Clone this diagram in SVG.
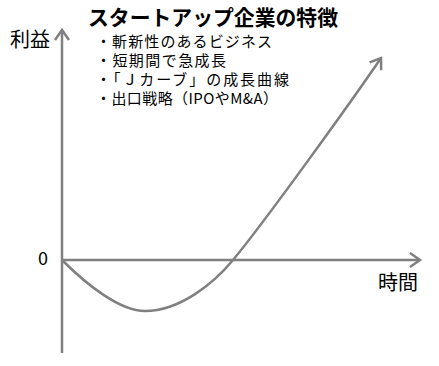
<svg xmlns="http://www.w3.org/2000/svg" width="439" height="366" viewBox="0 0 439 366">
<style>
.ax{stroke:#808080;stroke-width:2.5;fill:none}
.t{font-family:"Noto Sans CJK JP","Noto Sans",sans-serif;fill:#000}
.b{font-size:15px}
</style>
<defs>
<marker id="arr" markerUnits="userSpaceOnUse" markerWidth="20" markerHeight="20" refX="0" refY="0" viewBox="-12 -10 14 20" orient="auto">
<path d="M-10,-7 L0,0 L-10,7" fill="none" stroke="#808080" stroke-width="2.5"/>
</marker>
</defs>
<rect width="439" height="366" fill="#fff"/>
<g id="connectors">
<line class="ax" x1="62" y1="353" x2="62" y2="30" marker-end="url(#arr)"/>
<line class="ax" x1="62" y1="260" x2="420" y2="260" marker-end="url(#arr)"/>
<path class="ax" d="M62,260 C87,285 120,311 145,311 C180,311 214,283 233,260 C265,221.5 353.7,98.2 381,58" marker-end="url(#arr)"/>
</g>
<g id="title"><text class="t" x="88" y="25" font-size="21" font-weight="bold" textLength="250" lengthAdjust="spacingAndGlyphs">スタートアップ企業の特徴</text></g>
<g id="ylabel"><text class="t" x="10" y="47" font-size="20">利益</text></g>
<g id="zero"><text class="t" x="38" y="265" font-size="18">0</text></g>
<g id="xlabel"><text class="t" x="378" y="290" font-size="20">時間</text></g>
<g id="features" class="t b">
<text x="96" y="47" textLength="176">・斬新性のあるビジネス</text>
<text x="96" y="66" textLength="130">・短期間で急成長</text>
<text x="96" y="85" textLength="193">・「Ｊカーブ」の成長曲線</text>
<text x="96" y="104" textLength="182">・出口戦略（IPOやM&amp;A）</text>
</g>
</svg>
